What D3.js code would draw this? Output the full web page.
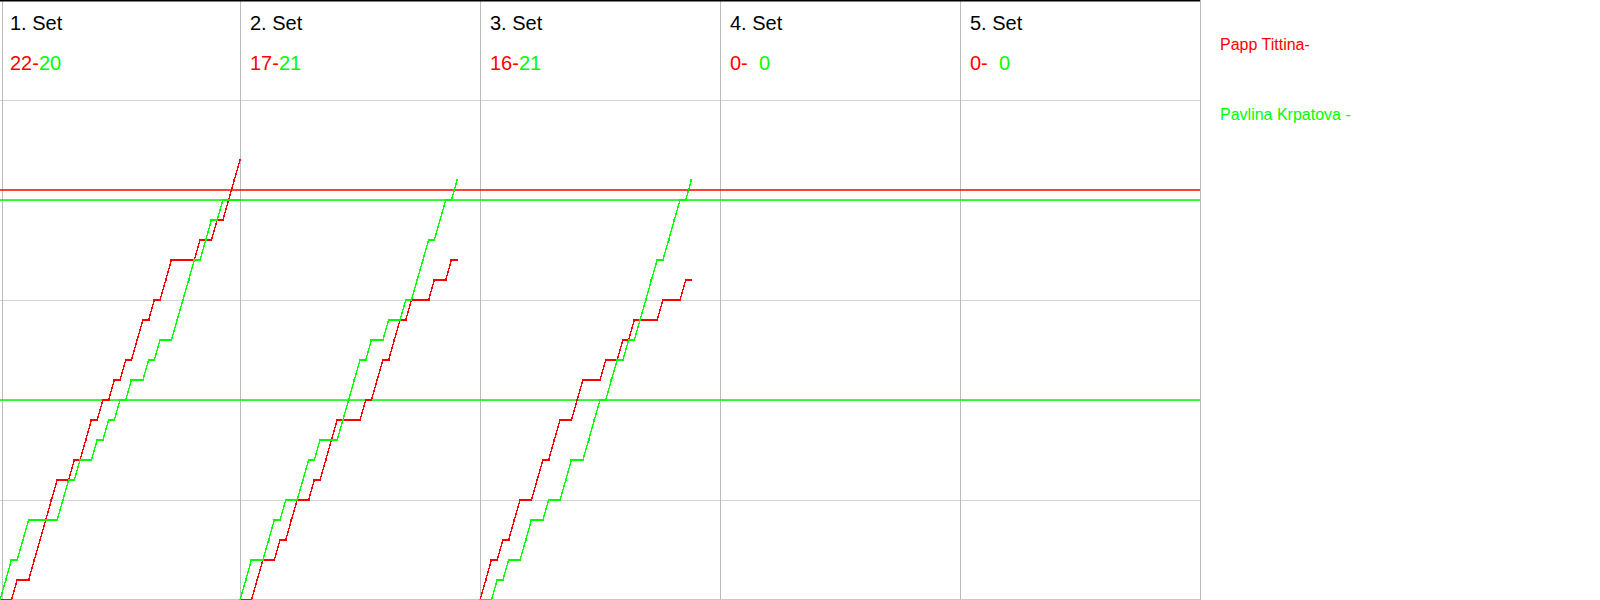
<!DOCTYPE html>
<html><head><meta charset="utf-8">
<script src="https://cdn.jsdelivr.net/npm/d3@7"></script>
<style>
html,body{margin:0;padding:0;background:#fff;}
svg{display:block;font-family:"Liberation Sans",Arial,sans-serif;}
</style></head><body>
<svg id="chart" width="1600" height="600"></svg>
<script>
// ---- data ----
const setLabels = ["1. Set", "2. Set", "3. Set", "4. Set", "5. Set"];
const redScores = [22, 17, 16, 0, 0];
const greenScores = [20, 21, 21, 0, 0];
// winner of each rally, in order (R = red player, G = green player)
const rallyWinners = [
  "GGRGGRRRRRGGRGRRGRGRGRGRRGRGRRGGGGRGGRGRRR",
  "GGRRGGRGRRGGRGRRRGGGGRGRRGRRGRGGGRGGRG",
  "RRGRGRRGGRRGRRGGRRGGGRGGRGRGGGGRGGGRG",
  "",
  ""
];
const playerNames = ["Papp Tittina-", "Pavlina Krpatova -"];
const redRefLines = [20.5];
const greenRefLines = [20, 10];
const scoreTicks = [5, 10, 15, 20, 25];
const scoreMax = 30;

// ---- layout ----
const H = 600, chartW = 1200;
const RED = "#ff0000", GREEN = "#00ff00";
const svg = d3.select("#chart");
const band = d3.scaleBand().domain(d3.range(setLabels.length)).range([0, chartW]);
const panelW = band.bandwidth();
const maxR = d3.max(rallyWinners, s => s.length);
const x = d3.scaleLinear().domain([0, maxR]).range([0, panelW]);
const y = d3.scaleLinear().domain([0, scoreMax]).range([H, 0]);

// horizontal grid
svg.append("g").selectAll("line").data(scoreTicks).join("line")
  .attr("x1", 0).attr("x2", chartW)
  .attr("y1", d => y(d) + 0.5).attr("y2", d => y(d) + 0.5)
  .attr("stroke", "#d3d3d3").attr("stroke-width", 1);
// bottom line
svg.append("line").attr("x1", 0).attr("x2", chartW).attr("y1", H - 0.5).attr("y2", H - 0.5)
  .attr("stroke", "#c8c8c8");
// vertical panel lines
svg.append("g").selectAll("line").data(d3.range(setLabels.length + 1)).join("line")
  .attr("x1", d => d === 0 ? 2.5 : d * panelW + 0.5)
  .attr("x2", d => d === 0 ? 2.5 : d * panelW + 0.5)
  .attr("y1", 0).attr("y2", H)
  .attr("stroke", "#bcbcbc").attr("stroke-width", 1);
// top black line
svg.append("line").attr("x1", 0).attr("x2", chartW).attr("y1", 0.75).attr("y2", 0.75)
  .attr("stroke", "#000").attr("stroke-width", 1.5);

// reference lines
svg.append("g").selectAll("line").data(redRefLines).join("line")
  .attr("x1", 0).attr("x2", chartW).attr("y1", d => y(d)).attr("y2", d => y(d))
  .attr("stroke", RED).attr("stroke-width", 1.3);
svg.append("g").selectAll("line").data(greenRefLines).join("line")
  .attr("x1", 0).attr("x2", chartW).attr("y1", d => y(d)).attr("y2", d => y(d))
  .attr("stroke", GREEN).attr("stroke-width", 1.3);

// score progressions
rallyWinners.forEach((seq, i) => {
  if (!seq.length) return;
  const pts = [{k: 0, r: 0, g: 0}];
  let r = 0, g = 0;
  seq.split("").forEach((w, k) => {
    if (w === "R") r++; else g++;
    pts.push({k: k + 1, r, g});
  });
  const ox = band(i);
  [["r", RED], ["g", GREEN]].forEach(([key, col]) => {
    const line = d3.line().x(d => ox + x(d.k)).y(d => y(d[key]));
    svg.append("path").datum(pts).attr("d", line)
      .attr("fill", "none").attr("stroke", col).attr("stroke-width", 1.3)
      .attr("shape-rendering", "crispEdges");
    svg.append("g").selectAll("rect").data(pts).join("rect")
      .attr("x", d => Math.round(ox + x(d.k)) - 1).attr("y", d => y(d[key]) - 1.5)
      .attr("width", 2).attr("height", 2).attr("fill", col)
      .attr("shape-rendering", "crispEdges");
  });
});

// headers
const hdr = svg.append("g").selectAll("g").data(setLabels).join("g")
  .attr("transform", (d, i) => `translate(${band(i) + 10},0)`);
hdr.append("text").attr("x", 0).attr("y", 30).attr("font-size", 20).attr("fill", "#000").text(d => d);
const sc = hdr.append("text").attr("x", 0).attr("y", 70).attr("font-size", 20)
  .style("white-space", "pre");
sc.append("tspan").attr("fill", RED).text((d, i) => redScores[i] + "-");
sc.append("tspan").attr("fill", GREEN).text((d, i) => (greenScores[i] < 10 ? "\u2007" : "") + greenScores[i]);

// legend
svg.append("g").selectAll("text").data(playerNames).join("text")
  .attr("x", chartW + 20).attr("y", (d, i) => 50 + i * 70)
  .attr("font-size", 16).attr("fill", (d, i) => i === 0 ? RED : GREEN)
  .text(d => d);
</script>
</body></html>
